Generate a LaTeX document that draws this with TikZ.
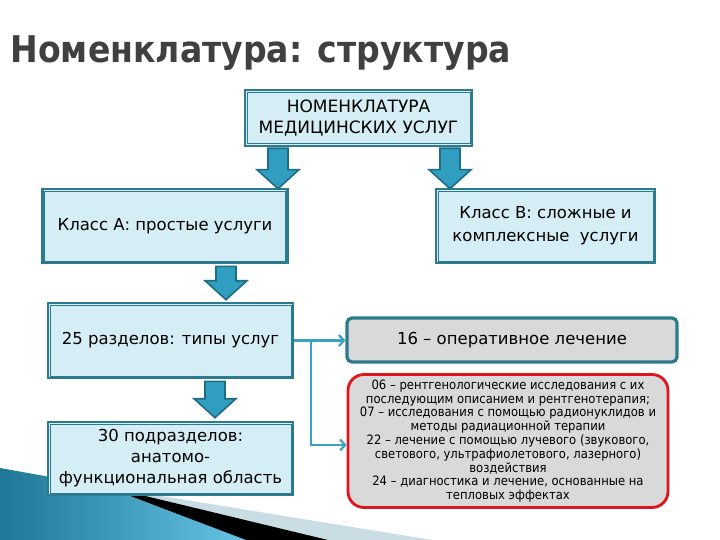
\documentclass[tikz,border=0pt]{standalone}
\usepackage{fontspec}
\setmainfont{DejaVu Sans}
\newfontfamily\condfont{DejaVu Sans Condensed}
\usetikzlibrary{arrows.meta,calc}
\definecolor{boxfill}{HTML}{D5EDF5}
\definecolor{boxline}{HTML}{2B7A8E}
\definecolor{grayfill}{HTML}{D9D9D9}
\definecolor{redline}{HTML}{E0141C}
\definecolor{connc}{HTML}{3AA3C3}
\definecolor{arrfill}{HTML}{2F9EC0}
\definecolor{arrline}{HTML}{1F6C84}
\definecolor{titlegray}{HTML}{404040}
\definecolor{decdark}{HTML}{1F7697}
\definecolor{declight}{HTML}{66C4E4}
\definecolor{decpale}{HTML}{CADDE5}
\newcommand\innerframe[1]{\draw[boxline, line width=0.8pt] ([shift={(3.4,3.4)}]#1.north west) rectangle ([shift={(-3.4,-3.4)}]#1.south east);}
\newcommand\blockarrow[2]{%
  \draw[barrow] let \p1=(#1), \p2=(#2) in
  (\x1-10pt,\y1) -- (\x1+10pt,\y1) -- (\x1+10pt,\y2+19pt) -- (\x1+21pt,\y2+19pt)
  -- (\x1,\y2) -- (\x1-21pt,\y2+19pt) -- (\x1-10pt,\y2+19pt) -- cycle;}
\begin{document}
\begin{tikzpicture}[x=1pt,y=-1pt,
  box/.style={draw=boxline, line width=2.6pt, fill=boxfill, align=center, inner sep=0pt,
    font=\fontsize{16.5}{21}\selectfont},
  graybox/.style={draw=boxline, line width=3.2pt, fill=grayfill, rounded corners=5pt,
    align=center, inner sep=0pt, font=\fontsize{16.5}{21}\selectfont},
  redbox/.style={draw=redline, line width=2.8pt, fill=grayfill, rounded corners=16pt,
    align=center, inner sep=0pt, font=\condfont\fontsize{12.9}{13.8}\selectfont},
  barrow/.style={fill=arrfill, draw=arrline, line width=1.6pt, line join=miter},
  conn/.style={draw=connc, line width=2.2pt, -{Straight Barb[length=5pt,width=11pt,line width=2.2pt]}}]
\useasboundingbox (0,0) rectangle (720,540);
% bottom-left decoration
\fill[decpale] (100,486) -- (432,540) -- (300,540) -- cycle;
\fill[black] (104,486) -- (328,540) -- (244,540) -- cycle;
\shade[left color=decdark, right color=declight] (0,468) -- (106,487) -- (246,540) -- (0,540) -- cycle;
% title
\node[anchor=base west, font=\condfont\bfseries\fontsize{36.8}{45}\selectfont, text=titlegray] (title) at (7,63) {Номенклатура: структура};
% boxes
\node[box, minimum width=227, minimum height=56, font=\fontsize{17}{21.5}\selectfont] (top) at (358.5,118) {НОМЕНКЛАТУРА\\МЕДИЦИНСКИХ УСЛУГ};
\innerframe{top}
\node[box, minimum width=245, minimum height=74] (clA) at (165,226) {Класс А: простые услуги};
\innerframe{clA}
\node[box, minimum width=219, minimum height=74, font=\fontsize{16.5}{23}\selectfont] (clB) at (545.5,226) {Класс В: сложные и\\комплексные\ \ услуги};
\innerframe{clB}
\node[box, minimum width=245, minimum height=75] (r25) at (170.5,340.5) {25 разделов: типы услуг};
\innerframe{r25}
\node[box, minimum width=245, minimum height=73] (r30) at (170.5,458.5) {30 подразделов:\\анатомо-\\функциональная область};
\innerframe{r30}
\node[graybox, minimum width=330, minimum height=44] (r16) at (512,340) {16 – оперативное лечение};
\node[redbox, minimum width=320, minimum height=133] (red) at (508,441) {06 – рентгенологические исследования с их\\последующим описанием и рентгенотерапия;\\07 – исследования с помощью радионуклидов и\\методы радиационной терапии\\22 – лечение с помощью лучевого (звукового,\\светового, ультрафиолетового, лазерного)\\воздействия\\24 – диагностика и лечение, основанные на\\тепловых эффектах};
% block arrows
\coordinate (ax1) at (278,0);
\coordinate (ax2) at (450,0);
\coordinate (ax3) at (226,0);
\coordinate (ax4) at (215,0);
\blockarrow{$(top.south -| ax1)+(0,1)$}{$(clA.north -| ax1)+(0,1)$}
\blockarrow{$(top.south -| ax2)+(0,1)$}{$(clB.north -| ax2)+(0,1)$}
\blockarrow{$(clA.south -| ax3)+(0,2)$}{$(r25.north -| ax3)+(0,-2)$}
\blockarrow{$(r25.south -| ax4)+(0,2)$}{$(r30.north -| ax4)+(0,-3)$}
% connectors
\coordinate (jn) at ($(r25.east)+(17,0)$);
\draw[conn] (r25.east) -- (r25.east -| r16.west);
\draw[conn] (jn) |- ($(red.west)+(0,4)$);
\end{tikzpicture}
\end{document}
